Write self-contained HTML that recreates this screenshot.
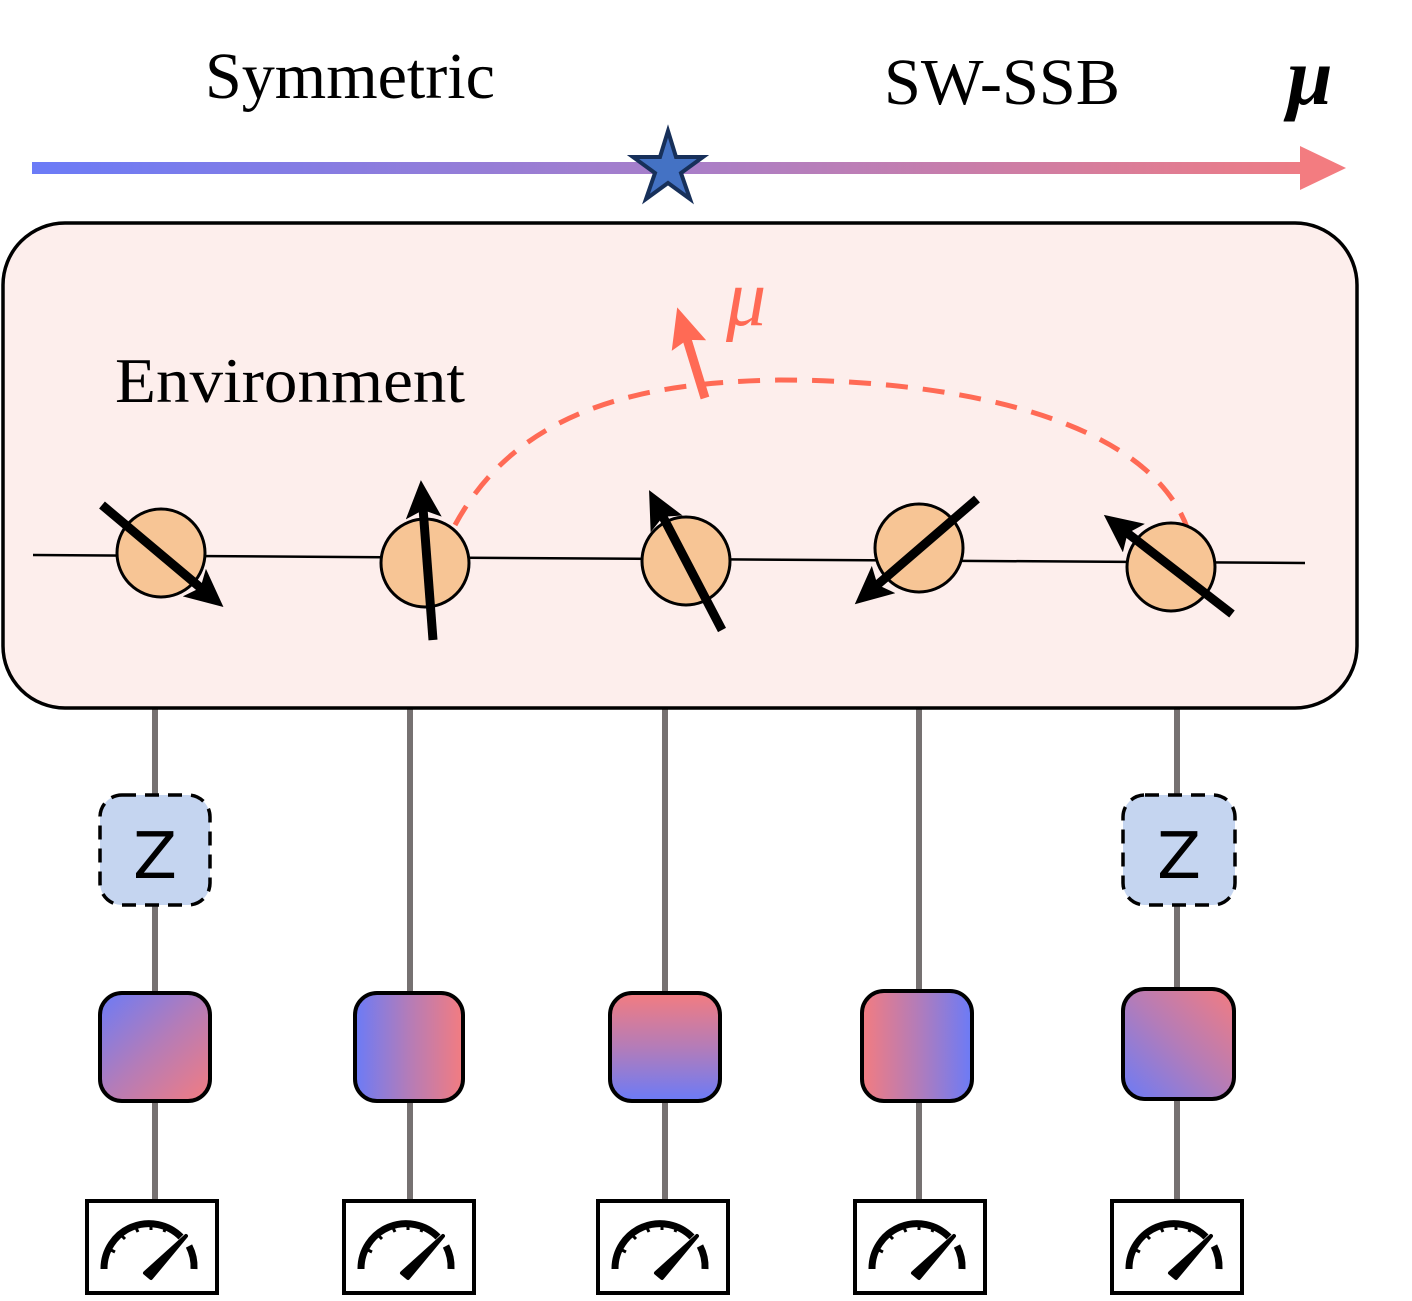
<!DOCTYPE html>
<html><head><meta charset="utf-8"><style>
html,body{margin:0;padding:0;background:#fff;}
svg{display:block;}
</style></head><body>
<svg width="1412" height="1301" viewBox="0 0 1412 1301" xmlns="http://www.w3.org/2000/svg">
<defs>
<linearGradient id="top" gradientUnits="userSpaceOnUse" x1="32" y1="0" x2="1345" y2="0"><stop offset="0" stop-color="#6b7bf7"/><stop offset="0.5" stop-color="#a97ec8"/><stop offset="1" stop-color="#f37c80"/></linearGradient>
<linearGradient id="g1" x1="0" y1="0" x2="1" y2="1"><stop offset="0" stop-color="#6b7bf7"/><stop offset="0.5" stop-color="#b47cb8"/><stop offset="1" stop-color="#f37c80"/></linearGradient>
<linearGradient id="g2" x1="0" y1="0" x2="1" y2="0"><stop offset="0" stop-color="#6b7bf7"/><stop offset="0.5" stop-color="#b47cb8"/><stop offset="1" stop-color="#f37c80"/></linearGradient>
<linearGradient id="g3" x1="0" y1="1" x2="0" y2="0"><stop offset="0" stop-color="#6b7bf7"/><stop offset="0.5" stop-color="#b47cb8"/><stop offset="1" stop-color="#f37c80"/></linearGradient>
<linearGradient id="g4" x1="1" y1="0" x2="0" y2="0"><stop offset="0" stop-color="#6b7bf7"/><stop offset="0.5" stop-color="#b47cb8"/><stop offset="1" stop-color="#f37c80"/></linearGradient>
<linearGradient id="g5" x1="0" y1="1" x2="1" y2="0"><stop offset="0" stop-color="#6b7bf7"/><stop offset="0.5" stop-color="#b47cb8"/><stop offset="1" stop-color="#f37c80"/></linearGradient>
<marker id="ah" markerUnits="userSpaceOnUse" markerWidth="50" markerHeight="50" refX="10" refY="18" orient="auto"><path d="M0,0 L38,18 L0,36 L8,18 Z" fill="#000"/></marker>
<marker id="ahr" markerUnits="userSpaceOnUse" markerWidth="50" markerHeight="50" refX="10" refY="18" orient="auto"><path d="M0,0 L40,18 L0,36 L6,18 Z" fill="#ff6a55"/></marker>
<g id="meter">
<rect x="-66" y="0" width="130" height="92" fill="#fff" stroke="#000" stroke-width="4"/>
<path d="M-49,68 A45,45 0 0 1 28,36" fill="none" stroke="#000" stroke-width="7"/>
<g stroke="#000" stroke-width="3">
<line x1="-44" y1="48" x2="-38" y2="51"/><line x1="-33" y1="33" x2="-28" y2="38"/><line x1="-18" y1="25" x2="-15" y2="31"/><line x1="-2" y1="22" x2="-2" y2="29"/><line x1="13" y1="25" x2="11" y2="31"/>
</g>
<path d="M36,45 A45,45 0 0 1 41,68" fill="none" stroke="#000" stroke-width="7"/>
<path d="M-8,72 L33,35 L-2,77 Z" fill="#000" stroke="#000" stroke-width="4" stroke-linejoin="round"/>
</g>
</defs>

<text x="205" y="98" font-family="Liberation Serif" font-size="66" textLength="290" lengthAdjust="spacingAndGlyphs">Symmetric</text>
<text x="884" y="104" font-family="Liberation Serif" font-size="66" textLength="236" lengthAdjust="spacingAndGlyphs">SW-SSB</text>
<text x="1287" y="104" font-family="Liberation Serif" font-size="82" font-style="italic" font-weight="bold">μ</text>

<line x1="32" y1="168" x2="1305" y2="168" stroke="url(#top)" stroke-width="12"/>
<path d="M1300,146 L1346,168 L1300,190 Z" fill="#f37c80"/>
<polygon points="668,131 676,157 703,157 681,173 690,199 668,183 646,199 655,173 633,157 660,157" fill="#4472c4" stroke="#17305a" stroke-width="4" stroke-linejoin="miter"/>

<g stroke="#767171" stroke-width="6">
<line x1="155" y1="705" x2="155" y2="1202"/>
<line x1="410" y1="705" x2="410" y2="1202"/>
<line x1="665" y1="705" x2="665" y2="1202"/>
<line x1="919" y1="705" x2="919" y2="1202"/>
<line x1="1177" y1="705" x2="1177" y2="1202"/>
</g>

<rect x="3" y="223" width="1354" height="485" rx="62" fill="#fdeeec" stroke="#000" stroke-width="3.5"/>
<text x="115" y="402" font-family="Liberation Serif" font-size="64" textLength="350" lengthAdjust="spacingAndGlyphs">Environment</text>

<path d="M455,525 C520,405 650,382 780,380 C960,380 1150,420 1188,530" fill="none" stroke="#ff6a55" stroke-width="5" stroke-dasharray="22 15"/>
<line x1="705" y1="398" x2="686" y2="336" stroke="#ff6a55" stroke-width="9" marker-end="url(#ahr)"/>
<text x="726" y="325" font-family="Liberation Serif" font-size="80" font-style="italic" fill="#ff6a55">μ</text>

<line x1="33" y1="555" x2="1305" y2="563" stroke="#000" stroke-width="2.5"/>
<g fill="#f7c595" stroke="#000" stroke-width="3">
<circle cx="161" cy="553" r="44"/>
<circle cx="425" cy="563" r="44"/>
<circle cx="686" cy="561" r="44"/>
<circle cx="919" cy="548" r="44"/>
<circle cx="1171" cy="567" r="44"/>
</g>
<g stroke="#000" stroke-width="9">
<line x1="102" y1="505" x2="202" y2="589" marker-end="url(#ah)"/>
<line x1="433" y1="640" x2="423" y2="508" marker-end="url(#ah)"/>
<line x1="722" y1="630" x2="662" y2="515" marker-end="url(#ah)"/>
<line x1="977" y1="499" x2="876" y2="586" marker-end="url(#ah)"/>
<line x1="1232" y1="614" x2="1126" y2="532" marker-end="url(#ah)"/>
</g>

<g fill="#c5d5f0" stroke="#000" stroke-width="3.5" stroke-dasharray="14 9">
<rect x="100" y="795" width="110" height="110" rx="22"/>
<rect x="1123" y="795" width="112" height="110" rx="22"/>
</g>
<text x="155" y="878" text-anchor="middle" font-family="DejaVu Sans" font-size="64">Z</text>
<text x="1179" y="878" text-anchor="middle" font-family="DejaVu Sans" font-size="64">Z</text>

<g stroke="#000" stroke-width="4">
<rect x="100" y="993" width="110" height="108" rx="22" fill="url(#g1)"/>
<rect x="355" y="993" width="108" height="108" rx="22" fill="url(#g2)"/>
<rect x="610" y="993" width="110" height="108" rx="22" fill="url(#g3)"/>
<rect x="862" y="991" width="110" height="110" rx="22" fill="url(#g4)"/>
<rect x="1123" y="989" width="111" height="110" rx="22" fill="url(#g5)"/>
</g>

<use href="#meter" x="153" y="1201"/>
<use href="#meter" x="410" y="1201"/>
<use href="#meter" x="664" y="1201"/>
<use href="#meter" x="921" y="1201"/>
<use href="#meter" x="1178" y="1201"/>
</svg>
</body></html>
